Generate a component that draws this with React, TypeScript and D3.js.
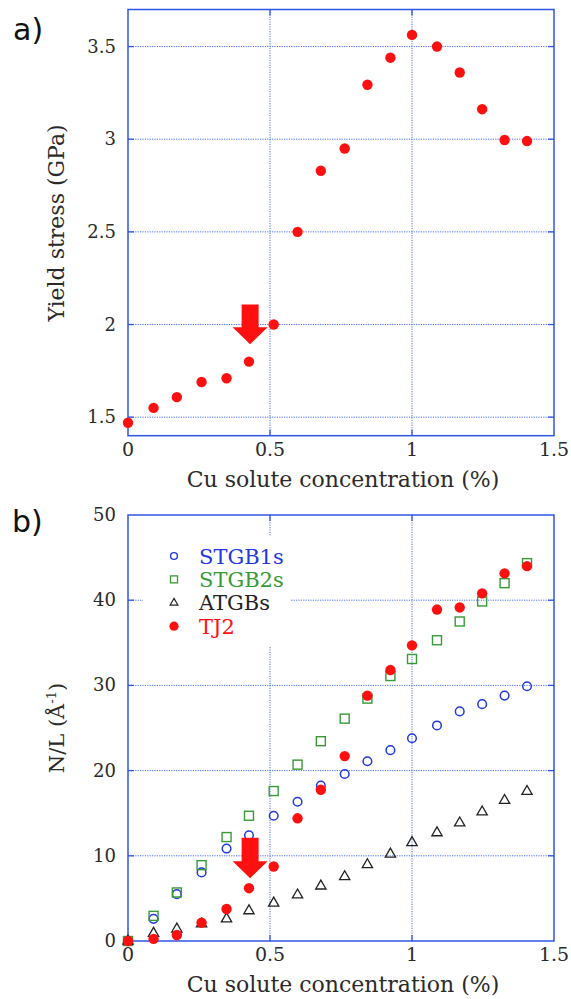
import { useEffect, useRef } from "react";
import * as d3 from "d3";

// Cu solute concentration (%) — shared by both panels
const conc = [0, 0.09, 0.172, 0.259, 0.347, 0.426, 0.513, 0.597, 0.679, 0.763, 0.843, 0.924, 1.0, 1.088, 1.168, 1.247, 1.326, 1.405];

// panel a
const yieldStress = [1.47, 1.55, 1.608, 1.69, 1.71, 1.8, 2.0, 2.5, 2.83, 2.95, 3.294, 3.44, 3.563, 3.5, 3.36, 3.162, 2.996, 2.99];

// panel b
const stgb1s = [0, 2.6, 5.5, 8.05, 10.85, 12.4, 14.7, 16.35, 18.25, 19.6, 21.1, 22.4, 23.8, 25.3, 26.95, 27.8, 28.8, 29.9];
const stgb2s = [0, 2.95, 5.7, 8.9, 12.2, 14.7, 17.6, 20.7, 23.45, 26.1, 28.45, 31.1, 33.1, 35.3, 37.5, 39.85, 42.0, 44.35];
const atgbs = [0, 0.9, 1.4, 2.0, 2.6, 3.55, 4.45, 5.4, 6.45, 7.55, 8.95, 10.2, 11.55, 12.7, 13.85, 15.15, 16.5, 17.55];
const tj2 = [0, 0.25, 0.7, 2.15, 3.75, 6.2, 8.75, 14.4, 17.75, 21.7, 28.8, 31.8, 34.7, 38.9, 39.15, 40.8, 43.15, 44.0];

const xTicks = [0, 0.5, 1, 1.5];
const yTicksA = [1.5, 2, 2.5, 3, 3.5];
const yTicksB = [0, 10, 20, 30, 40, 50];

const legendNames = ["STGB1s", "STGB2s", "ATGBs", "TJ2"];

// arrows: x, top of shaft, tip (data units)
const arrowA = { x: 0.43, top: 2.108, tip: 1.894 };
const arrowB = { x: 0.43, top: 12.12, tip: 7.36 };

const BLUE = "#2238e0";
const GREEN = "#379a37";
const RED = "#ff1010";
const FRAME = "#2f55e6";
const GRID = "#4c6ef2";
const TEXT = "#2a2a2a";
const SERIF = "'DejaVu Serif', serif";
const SANS = "'DejaVu Sans', sans-serif";

export default function App() {
  const ref = useRef<SVGSVGElement>(null);

  useEffect(() => {
    const svg = d3.select(ref.current);
    svg.selectAll("*").remove();

    const left = 128;
    const right = 554;
    const x = d3.scaleLinear().domain([0, 1.5]).range([left, right]);

    function panel(top: number, bottom: number, domain: number[], yTicks: number[]) {
      const y = d3.scaleLinear().domain(domain).range([bottom, top]);
      const g = svg.append("g");
      const grid = g.append("g");

      yTicks.forEach(t => {
        const yy = y(t);
        if (Math.abs(yy - top) > 1 && Math.abs(yy - bottom) > 1) {
          grid.append("line")
            .attr("x1", left).attr("x2", right).attr("y1", yy).attr("y2", yy)
            .attr("stroke", GRID).attr("stroke-width", 1).attr("stroke-dasharray", "1.2 1.2");
          g.append("line").attr("x1", left).attr("x2", left + 6).attr("y1", yy).attr("y2", yy)
            .attr("stroke", FRAME).attr("stroke-width", 1.3);
          g.append("line").attr("x1", right - 6).attr("x2", right).attr("y1", yy).attr("y2", yy)
            .attr("stroke", FRAME).attr("stroke-width", 1.3);
        }
        g.append("text")
          .attr("x", 116).attr("y", yy + 6)
          .attr("text-anchor", "end")
          .attr("font-family", SERIF).attr("font-size", 18).attr("fill", TEXT)
          .text(String(t));
      });

      xTicks.forEach(t => {
        const xx = x(t);
        if (t > 0 && t < 1.5) {
          grid.append("line")
            .attr("x1", xx).attr("x2", xx).attr("y1", top).attr("y2", bottom)
            .attr("stroke", GRID).attr("stroke-width", 1).attr("stroke-dasharray", "1.2 1.2");
          g.append("line").attr("x1", xx).attr("x2", xx).attr("y1", top).attr("y2", top + 6)
            .attr("stroke", FRAME).attr("stroke-width", 1.3);
          g.append("line").attr("x1", xx).attr("x2", xx).attr("y1", bottom - 6).attr("y2", bottom)
            .attr("stroke", FRAME).attr("stroke-width", 1.3);
        }
        g.append("text")
          .attr("x", xx).attr("y", bottom + 20)
          .attr("text-anchor", "middle")
          .attr("font-family", SERIF).attr("font-size", 19).attr("fill", TEXT)
          .text(String(t));
      });

      g.append("text")
        .attr("x", (left + right) / 2 + 2).attr("y", bottom + 51)
        .attr("text-anchor", "middle")
        .attr("font-family", SERIF).attr("font-size", 22).attr("fill", TEXT)
        .text("Cu solute concentration (%)");

      return { g, y };
    }

    function frame(g: any, top: number, bottom: number) {
      g.append("rect")
        .attr("x", left).attr("y", top)
        .attr("width", right - left).attr("height", bottom - top)
        .attr("fill", "none").attr("stroke", FRAME).attr("stroke-width", 1.5);
    }

    function arrow(g: any, y: any, a: { x: number; top: number; tip: number }) {
      const cx = x(a.x);
      const yTop = y(a.top);
      const yTip = y(a.tip);
      const headH = 17;
      const shaftW = 17;
      const headW = 35;
      g.append("path")
        .attr("d",
          `M${cx - shaftW / 2},${yTop} L${cx + shaftW / 2},${yTop} L${cx + shaftW / 2},${yTip - headH} ` +
          `L${cx + headW / 2},${yTip - headH} L${cx},${yTip} L${cx - headW / 2},${yTip - headH} ` +
          `L${cx - shaftW / 2},${yTip - headH} Z`)
        .attr("fill", RED);
    }

    // ---- panel a
    const a = panel(9.5, 435.7, [1.4, 3.7], yTicksA);
    frame(a.g, 9.5, 435.7);
    a.g.append("g").selectAll("circle")
      .data(conc.map((c, i) => [c, yieldStress[i]]))
      .join("circle")
      .attr("cx", d => x(d[0])).attr("cy", d => a.y(d[1]))
      .attr("r", 5.2).attr("fill", RED);
    arrow(a.g, a.y, arrowA);

    a.g.append("text")
      .attr("transform", `translate(64,223) rotate(-90)`)
      .attr("text-anchor", "middle")
      .attr("font-family", SERIF).attr("font-size", 22).attr("fill", TEXT)
      .text("Yield stress (GPa)");

    svg.append("text")
      .attr("x", 13).attr("y", 40)
      .attr("font-family", SANS).attr("font-size", 30).attr("fill", "#111")
      .text("a)");

    // ---- panel b
    const b = panel(515, 941, [0, 50], yTicksB);

    // legend box hides the gridlines behind it
    b.g.append("rect")
      .attr("x", 143).attr("y", 536).attr("width", 147).attr("height", 110)
      .attr("fill", "white");
    frame(b.g, 515, 941);

    const tri = d3.symbol().type(d3.symbolTriangle).size(46)();
    const triSmall = d3.symbol().type(d3.symbolTriangle).size(26)();

    const pts = (vals: number[]) => conc.map((c, i) => [c, vals[i]]);

    b.g.append("g").selectAll("circle")
      .data(pts(stgb1s)).join("circle")
      .attr("cx", d => x(d[0])).attr("cy", d => b.y(d[1]))
      .attr("r", 4.3).attr("fill", "none").attr("stroke", BLUE).attr("stroke-width", 1.5);

    b.g.append("g").selectAll("rect")
      .data(pts(stgb2s)).join("rect")
      .attr("x", d => x(d[0]) - 4.5).attr("y", d => b.y(d[1]) - 4.5)
      .attr("width", 9).attr("height", 9)
      .attr("fill", "none").attr("stroke", GREEN).attr("stroke-width", 1.4);

    b.g.append("g").selectAll("path")
      .data(pts(atgbs)).join("path")
      .attr("d", tri)
      .attr("transform", d => `translate(${x(d[0])},${b.y(d[1])})`)
      .attr("fill", "none").attr("stroke", "#222").attr("stroke-width", 1.3);

    b.g.append("g").selectAll("circle")
      .data(pts(tj2)).join("circle")
      .attr("cx", d => x(d[0])).attr("cy", d => b.y(d[1]))
      .attr("r", 5.2).attr("fill", RED);

    arrow(b.g, b.y, arrowB);

    // legend
    const legendColors = [BLUE, GREEN, "#222", RED];
    legendNames.forEach((name, i) => {
      const cy = 556 + i * 23.4;
      const sx = 174;
      if (i === 0) {
        b.g.append("circle").attr("cx", sx).attr("cy", cy).attr("r", 3.4)
          .attr("fill", "none").attr("stroke", BLUE).attr("stroke-width", 1.4);
      } else if (i === 1) {
        b.g.append("rect").attr("x", sx - 3.5).attr("y", cy - 3.5).attr("width", 7).attr("height", 7)
          .attr("fill", "none").attr("stroke", GREEN).attr("stroke-width", 1.3);
      } else if (i === 2) {
        b.g.append("path").attr("d", triSmall).attr("transform", `translate(${sx},${cy})`)
          .attr("fill", "none").attr("stroke", "#222").attr("stroke-width", 1.2);
      } else {
        b.g.append("circle").attr("cx", sx).attr("cy", cy).attr("r", 4.6).attr("fill", RED);
      }
      b.g.append("text")
        .attr("x", 199).attr("y", cy + 7.5)
        .attr("font-family", SERIF).attr("font-size", 21).attr("fill", legendColors[i])
        .text(name);
    });

    const yl = b.g.append("text")
      .attr("transform", `translate(64,728) rotate(-90)`)
      .attr("text-anchor", "middle")
      .attr("font-family", SERIF).attr("font-size", 21).attr("fill", TEXT);
    yl.append("tspan").text("N/L (Å");
    yl.append("tspan").attr("dy", -8).attr("font-size", 13).text("-1");
    yl.append("tspan").attr("dy", 8).text(")");

    svg.append("text")
      .attr("x", 12).attr("y", 532)
      .attr("font-family", SANS).attr("font-size", 30).attr("fill", "#111")
      .text("b)");
  }, []);

  return (
    <svg
      ref={ref}
      width={571}
      height={999}
      style={{ position: "absolute", left: 0, top: 0, background: "white" }}
    />
  );
}
